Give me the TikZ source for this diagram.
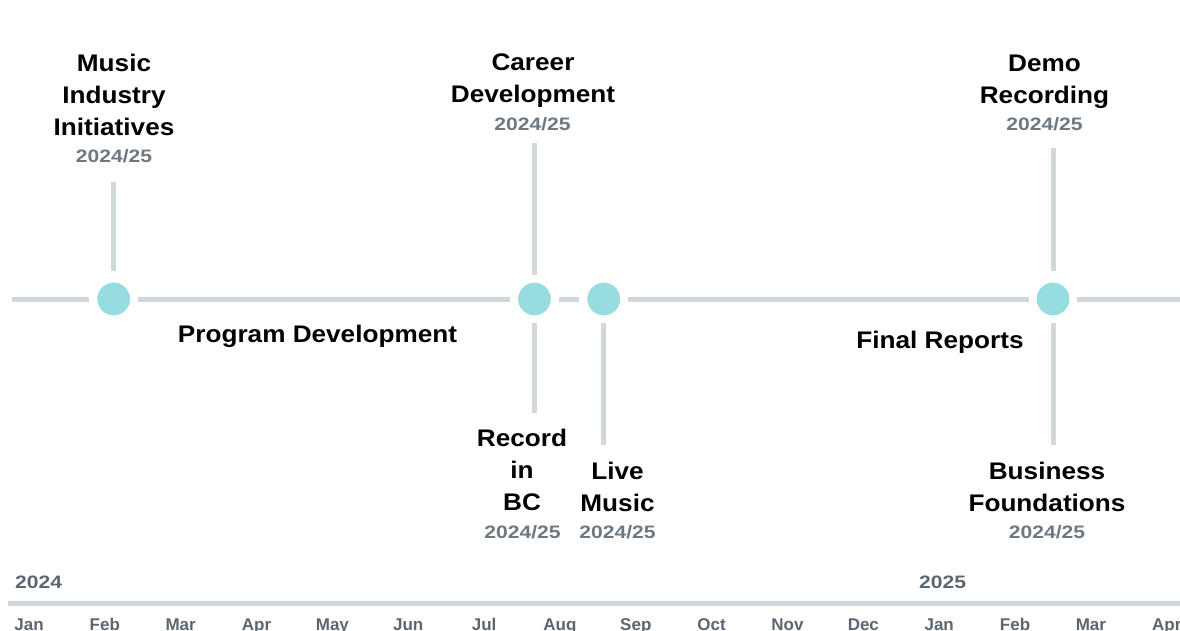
\documentclass[tikz,border=0pt]{standalone}
\usepackage{fontspec}
\setmainfont{Liberation Sans}
\newfontfamily\headfont[FakeStretch=1.09]{Liberation Sans}
\newfontfamily\datefont[FakeStretch=1.17]{Liberation Sans}
\definecolor{railgray}{HTML}{D0D8DB}
\definecolor{dotteal}{HTML}{97DDE0}
\definecolor{dategray}{HTML}{6E7880}
\definecolor{axisgray}{HTML}{5C6670}
\tikzset{
    rail/.style={draw=railgray, line width=5pt},
    stem/.style={draw=railgray, line width=5pt},
    event/.style={circle, fill=dotteal, draw=white, line width=7.9pt, inner sep=0pt, minimum size=40.9pt},
    head/.style={font=\headfont\bfseries\fontsize{24}{32}\selectfont, align=center, inner sep=0pt, anchor=north},
    phase/.style={font=\headfont\bfseries\fontsize{24}{32}\selectfont, inner sep=0pt, anchor=base},
    datelbl/.style={font=\datefont\bfseries\fontsize{18}{20}\selectfont, text=dategray, inner sep=0pt, anchor=base},
    yearlbl/.style={font=\datefont\bfseries\fontsize{18}{20}\selectfont, text=axisgray, inner sep=0pt, anchor=base west},
    monthlbl/.style={font=\bfseries\fontsize{17}{20}\selectfont, text=axisgray, inner sep=0pt, anchor=base}
}
\begin{document}
\begin{tikzpicture}[x=1pt,y=-1pt]
\useasboundingbox (0,0) rectangle (1180,630);

% events on the rail
\node[event] (ev1) at (113.7,299) {};
\node[event] (ev2) at (534.5,299) {};
\node[event] (ev3) at (603.8,299) {};
\node[event] (ev4) at (1053,299) {};

\coordinate (railL) at (12,299);
\coordinate (railR) at (1180,299);
\draw[rail] (railL) -- (ev1) -- (ev2) -- (ev3) -- (ev4) -- (railR);

% stems
\coordinate (s1) at (113.7,182);
\coordinate (s2a) at (534.5,143);
\coordinate (s2b) at (534.5,413);
\coordinate (s3) at (603.8,445);
\coordinate (s4a) at (1053,148);
\coordinate (s4b) at (1053,445);
\draw[stem, shorten <=4pt] (ev1) -- (s1);
\draw[stem] (ev2) -- (s2a);
\draw[stem] (ev2) -- (s2b);
\draw[stem] (ev3) -- (s3);
\draw[stem, shorten <=4pt] (ev4) -- (s4a);
\draw[stem] (ev4) -- (s4b);

% labels above
\node[head] (music) at (114,53.8) {Music\\Industry\\Initiatives};
\node[datelbl] (musicd) at (114,162) {2024/25};
\node[head] (career) at (533,53.8) {Career\\Development};
\node[datelbl] (careerd) at (532.5,130) {2024/25};
\node[head] (demo) at (1044.5,54.8) {Demo\\Recording};
\node[datelbl] (demod) at (1044.5,130) {2024/25};

% labels below
\node[head] (record) at (522,428.8) {Record\\in\\BC};
\node[datelbl] (recordd) at (522.5,538) {2024/25};
\node[head] (live) at (617.5,461.8) {Live\\Music};
\node[datelbl] (lived) at (617.5,538) {2024/25};
\node[head] (business) at (1047,461.8) {Business\\Foundations};
\node[datelbl] (businessd) at (1047,538) {2024/25};

% phases
\node[phase] (progdev) at (317.5,342) {Program Development};
\node[phase] (final) at (940,348) {Final Reports};

% time axis
\coordinate (axL) at (8,603.5);
\coordinate (axR) at (1180,603.5);
\draw[rail] (axL) -- (axR);
\node[yearlbl] (y2024) at (15,588) {2024};
\node[yearlbl] (y2025) at (919,588) {2025};
\foreach \m [count=\i from 0] in {Jan,Feb,Mar,Apr,May,Jun,Jul,Aug,Sep,Oct,Nov,Dec,Jan,Feb,Mar,Apr}
    \node[monthlbl] (m\i) at ({29+75.85*\i},630.5) {\m};
\end{tikzpicture}
\end{document}
